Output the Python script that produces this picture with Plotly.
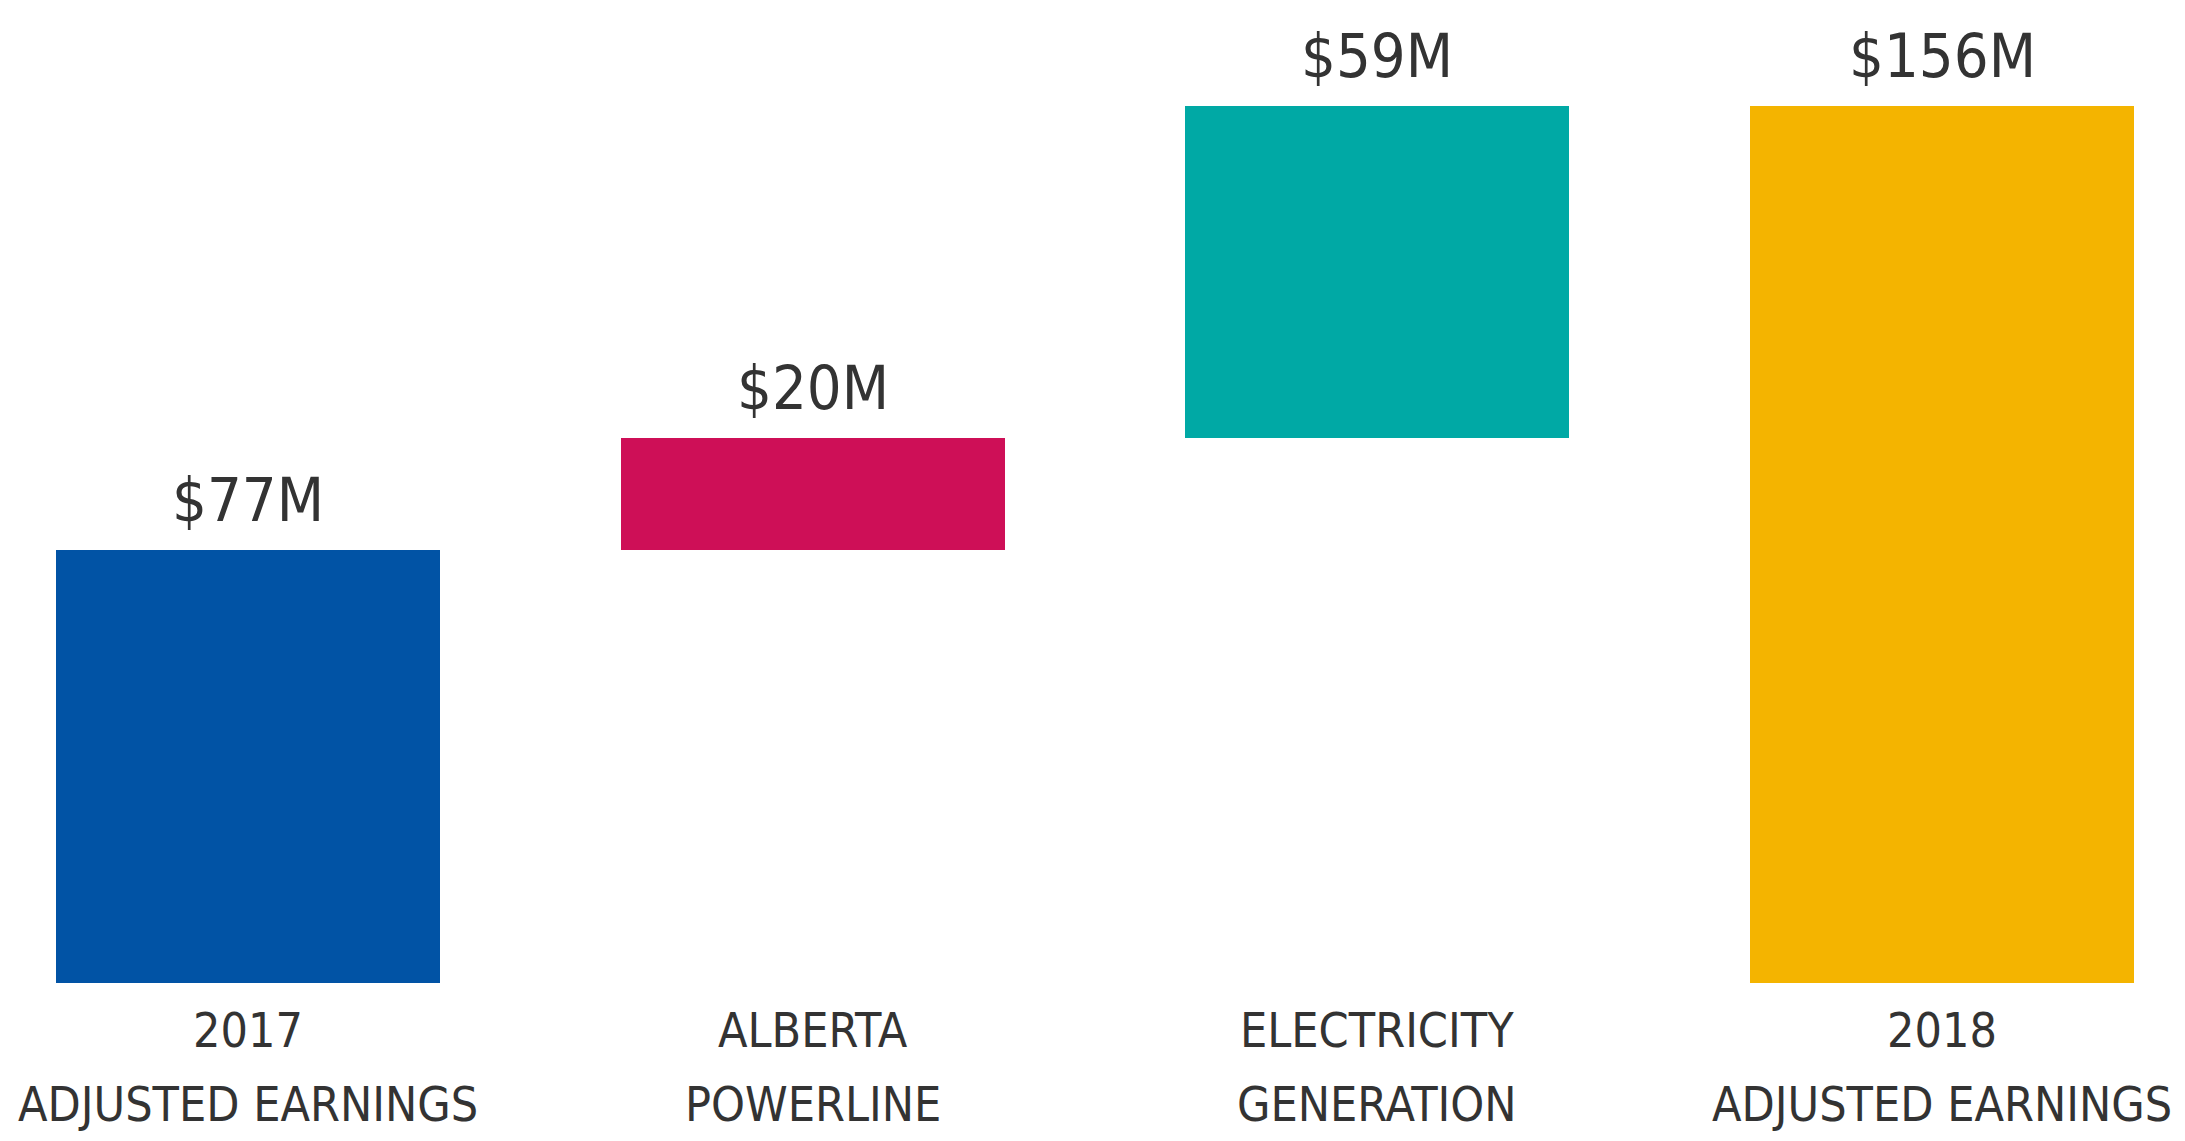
import plotly.graph_objects as go

cat_line1 = ["2017", "ALBERTA", "ELECTRICITY", "2018"]
cat_line2 = ["ADJUSTED EARNINGS", "POWERLINE", "GENERATION", "ADJUSTED EARNINGS"]
values = [77, 20, 59, 156]
value_labels = ["$77M", "$20M", "$59M", "$156M"]
is_total = [True, False, False, True]
colors = ["#0153A5", "#CE0F57", "#00A9A5", "#F4B400"]

FONT = "Liberation Sans Narrow, Arial Narrow, DejaVu Sans Condensed, sans-serif"
TEXT_COLOR = "#333333"

# compute bases for waterfall-like layout
bases = []
running = 0
for v, tot in zip(values, is_total):
    if tot:
        bases.append(0)
        running = v
    else:
        bases.append(running)
        running += v

xs = list(range(len(values)))

fig = go.Figure()
fig.add_trace(go.Bar(
    x=xs, y=values, base=bases,
    marker=dict(color=colors, line=dict(width=0)),
    width=0.68, hoverinfo="skip", showlegend=False,
))

for x, b, v, lab in zip(xs, bases, values, value_labels):
    fig.add_annotation(x=x, y=b + v, text=lab, showarrow=False,
                       yanchor="bottom", yshift=13,
                       font=dict(family=FONT, size=61, color=TEXT_COLOR))

for x, l1, l2 in zip(xs, cat_line1, cat_line2):
    fig.add_annotation(x=x, xref="x", y=0, yref="paper", text=l1,
                       showarrow=False, yanchor="top", yshift=-17,
                       font=dict(family=FONT, size=48, color=TEXT_COLOR))
    fig.add_annotation(x=x, xref="x", y=0, yref="paper", text=l2,
                       showarrow=False, yanchor="top", yshift=-91,
                       font=dict(family=FONT, size=48, color=TEXT_COLOR))

fig.update_layout(
    width=2169, height=1125,
    margin=dict(l=0, r=0, t=0, b=150),
    paper_bgcolor="white", plot_bgcolor="white",
    bargap=0,
    xaxis=dict(range=[-0.425, 3.416], tickmode="array", tickvals=xs,
               showticklabels=False, showgrid=False, zeroline=False,
               showline=False, ticks=""),
    yaxis=dict(range=[0, 173.4], visible=False, showgrid=False, zeroline=False),
)

fig.write_html("out.html")
